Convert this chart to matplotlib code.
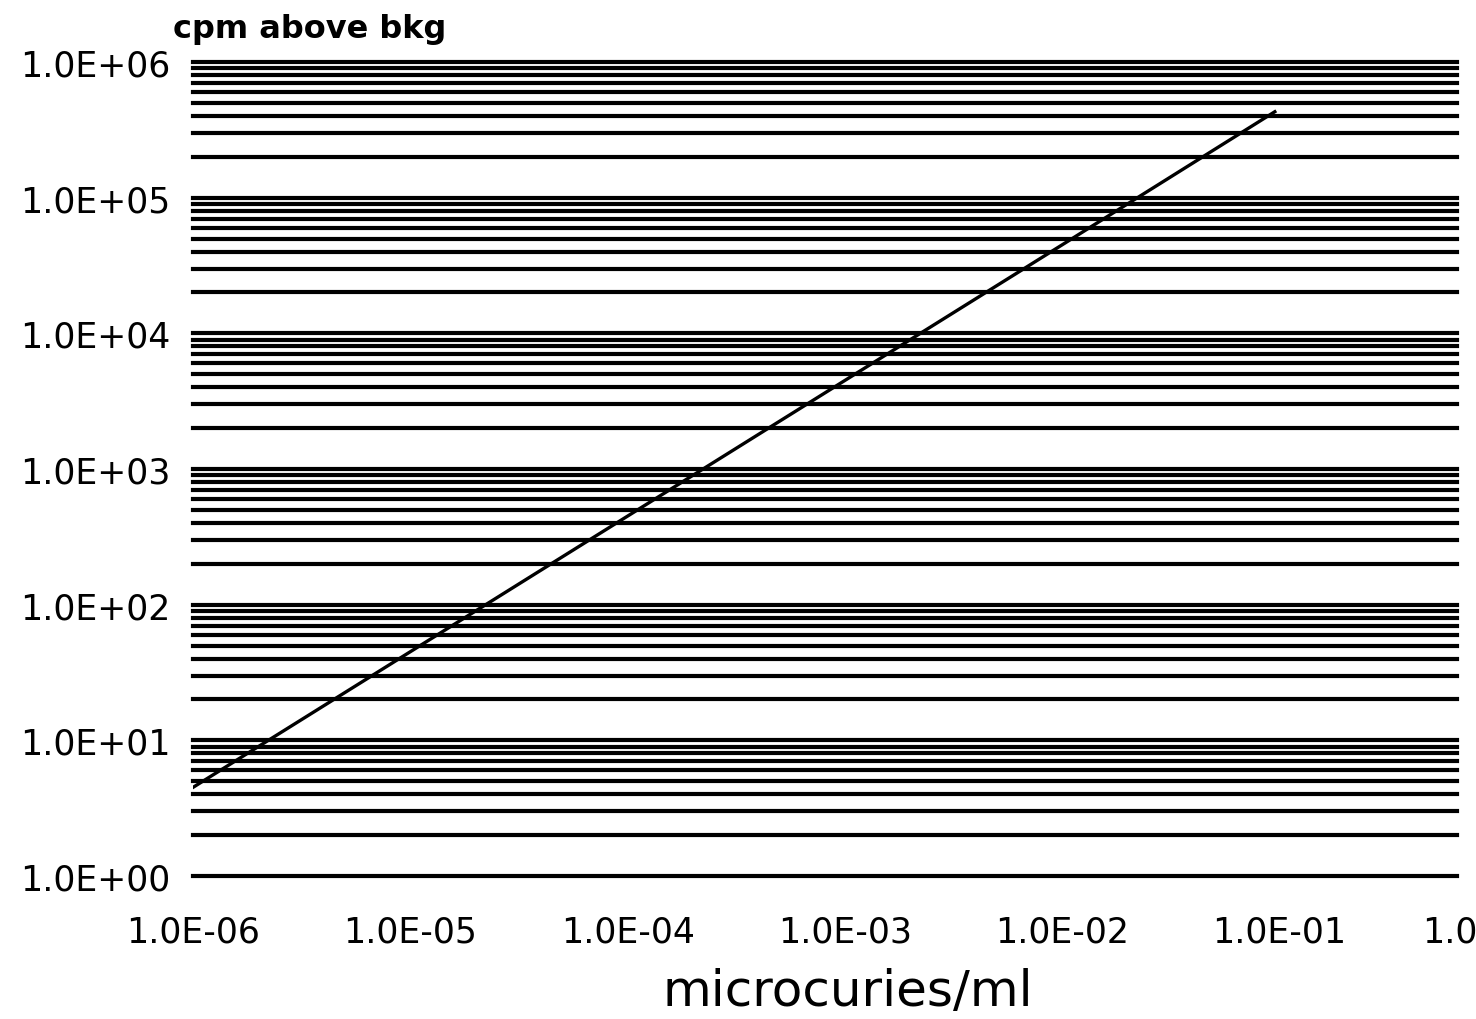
import matplotlib
matplotlib.use("Agg")
import matplotlib.pyplot as plt
from matplotlib.ticker import FixedLocator, NullLocator

# activity (microcuries/ml) vs count rate (cpm above background)
activity = [1e-6, 1e-5, 1e-4, 1e-3, 1e-2, 9.5e-2]
cpm = [4.5, 45, 450, 4500, 45000, 430000]

x_ticks = [1e-6, 1e-5, 1e-4, 1e-3, 1e-2, 1e-1, 1e0]
x_labels = ["1.0E-06", "1.0E-05", "1.0E-04", "1.0E-03", "1.0E-02", "1.0E-01", "1.0E+00"]
y_ticks = [1e0, 1e1, 1e2, 1e3, 1e4, 1e5, 1e6]
y_labels = ["1.0E+00", "1.0E+01", "1.0E+02", "1.0E+03", "1.0E+04", "1.0E+05", "1.0E+06"]

W, H = 1476, 1020
fig = plt.figure(figsize=(W / 100, H / 100), dpi=100)
ax = fig.add_axes([193 / W, 1 - 877 / H, 1304 / W, 814 / H])

ax.set_xscale("log")
ax.set_yscale("log")
ax.set_xlim(1e-6, 1e0)
ax.set_ylim(1e0, 1e6)

# horizontal grid at every 1..9 x 10^n
grid_vals = [m * 10 ** e for e in range(0, 6) for m in range(1, 10)] + [1e6]
for g in grid_vals:
    ax.axhline(g, xmin=0, xmax=(1457 - 193) / 1304, color="black", lw=3.0,
               zorder=1, clip_on=False)

ax.plot(activity, cpm, color="black", lw=2.4, zorder=2)

for s in ax.spines.values():
    s.set_visible(False)

ax.xaxis.set_major_locator(FixedLocator(x_ticks))
ax.xaxis.set_minor_locator(NullLocator())
ax.set_xticklabels(x_labels)
ax.yaxis.set_major_locator(FixedLocator(y_ticks))
ax.yaxis.set_minor_locator(NullLocator())
ax.set_yticklabels(y_labels)
ax.tick_params(axis="x", length=0, pad=28, labelsize=25)
ax.tick_params(axis="y", length=0, pad=16, labelsize=25)

fig.text(848 / W, 1 - 992 / H, "microcuries/ml", fontsize=36, ha="center", va="center")
fig.text(173 / W, 1 - 38 / H, "cpm above bkg", fontsize=23, fontweight="bold",
         ha="left", va="baseline")

fig.savefig("out.png", dpi=100)
